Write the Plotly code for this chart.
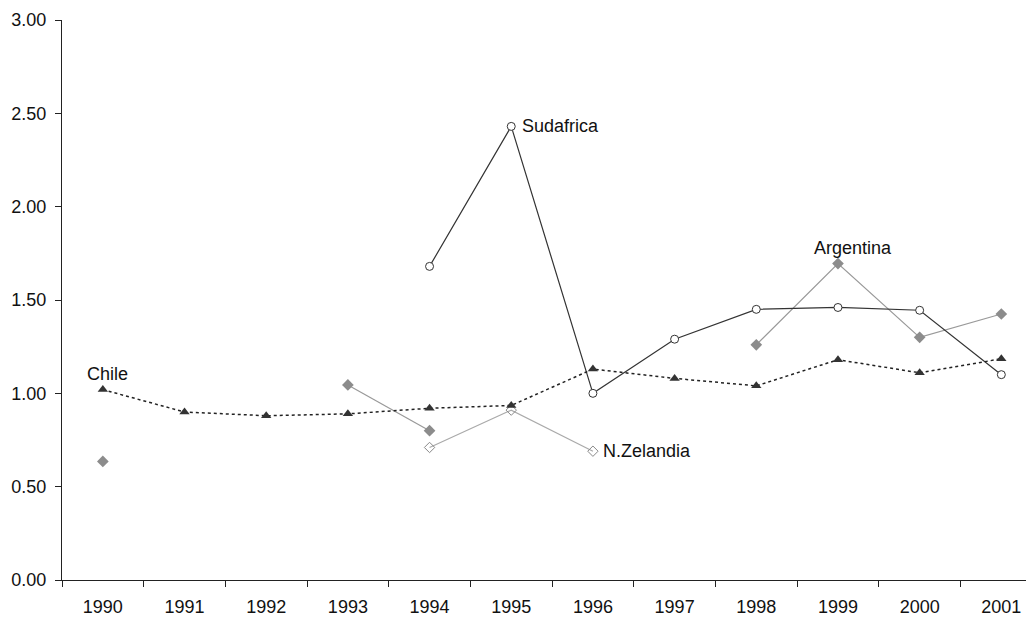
import plotly.graph_objects as go

anios = ["1990", "1991", "1992", "1993", "1994", "1995",
         "1996", "1997", "1998", "1999", "2000", "2001"]

chile = [1.02, 0.90, 0.88, 0.89, 0.92, 0.935, 1.13, 1.08, 1.04, 1.18, 1.11, 1.185]
sudafrica = [None, None, None, None, 1.68, 2.43, 1.00, 1.29, 1.45, 1.46, 1.445, 1.10]
argentina = [0.635, None, None, 1.045, 0.80, None, None, None, 1.26, 1.695, 1.30, 1.425]
nzelandia = [None, None, None, None, 0.71, 0.91, 0.69, None, None, None, None, None]

# texto, año, valor, anclaje x, anclaje y, desplazamiento x, desplazamiento y
etiquetas = [
    ("Chile", "1990", 1.02, "center", "bottom", 5, 4),
    ("Sudafrica", "1995", 2.43, "left", "middle", 9, 0),
    ("N.Zelandia", "1996", 0.69, "left", "middle", 8, 0),
    ("Argentina", "1999", 1.695, "center", "bottom", 15, 4),
]

FUENTE = "Liberation Sans, Arial, sans-serif"

fig = go.Figure()

fig.add_trace(go.Scatter(
    x=anios, y=argentina, mode="lines+markers",
    line=dict(color="#999999", width=1.2),
    marker=dict(symbol="diamond", size=9, color="#8c8c8c"),
))
fig.add_trace(go.Scatter(
    x=anios, y=nzelandia, mode="lines+markers",
    line=dict(color="#aaaaaa", width=1.2),
    marker=dict(symbol="diamond-open", size=8, color="#888888", line=dict(width=1)),
))
fig.add_trace(go.Scatter(
    x=anios, y=sudafrica, mode="lines+markers",
    line=dict(color="#333333", width=1.2),
    marker=dict(symbol="circle", size=8, color="white",
                line=dict(color="#333333", width=1)),
))
fig.add_trace(go.Scatter(
    x=anios, y=chile, mode="lines+markers",
    line=dict(color="#222222", width=1.5, dash="dot"),
    marker=dict(symbol="triangle-up", size=9, color="#333333"),
))

for texto, x, y, xa, ya, dx, dy in etiquetas:
    fig.add_annotation(x=anios.index(x), y=y, xref="x", yref="y",
                       text=texto, showarrow=False,
                       xanchor=xa, yanchor=ya, xshift=dx, yshift=dy,
                       font=dict(size=18, color="#111111", family=FUENTE))

fig.update_layout(
    width=1026, height=610,
    paper_bgcolor="white", plot_bgcolor="white",
    showlegend=False,
    margin=dict(l=54, r=0, t=12, b=38),
    font=dict(family=FUENTE, size=18, color="#111111"),
    xaxis=dict(
        type="category", range=[-0.5, 11.4],
        tickson="boundaries", ticks="outside", ticklen=6, tickcolor="#222",
        ticklabelstandoff=10,
        showline=True, linecolor="#222", linewidth=1,
        showgrid=False, zeroline=False,
    ),
    yaxis=dict(
        range=[0, 3], dtick=0.5, tickformat=".2f",
        ticks="outside", ticklen=6, tickcolor="#222",
        ticklabelstandoff=5,
        showline=True, linecolor="#222", linewidth=1,
        showgrid=False, zeroline=False,
    ),
)

fig.write_html("out.html")
